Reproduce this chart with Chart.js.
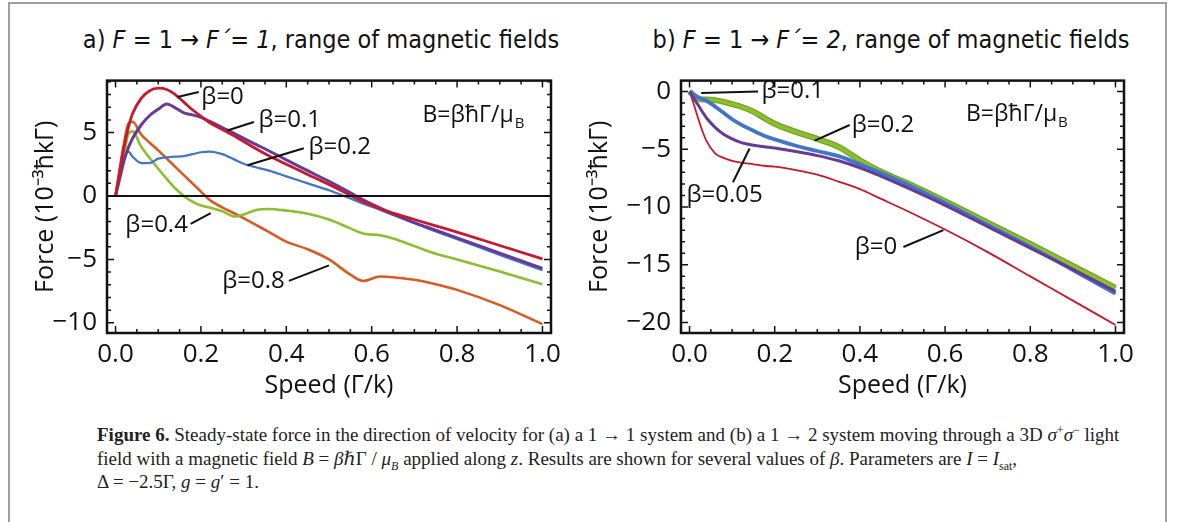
<!DOCTYPE html>
<html>
<head>
<meta charset="utf-8">
<script src="https://cdn.jsdelivr.net/npm/chart.js@4.4.1/dist/chart.umd.min.js"></script>
<style>
  html, body { margin: 0; padding: 0; background: #fff; }
  #page { position: relative; width: 1182px; height: 522px; overflow: hidden; background: #fff; }
  #frame { position: absolute; left: 8px; top: 2px; width: 1155px; height: 560px; border: 2px solid #a0a0a0; }
  .ptitle { position: absolute; top: 25px; width: 540px; text-align: center; white-space: nowrap;
            font: 25px 'Liberation Sans Narrow', 'DejaVu Sans Condensed', 'Liberation Sans', sans-serif; color: #111; }
  canvas { position: absolute; }
  #caption { position: absolute; left: 97px; top: 423px; white-space: nowrap; color: #222;
             font: 19px 'Liberation Serif', 'DejaVu Serif', serif; line-height: 23.5px; }
  #caption sup, #caption sub { font-size: 12px; line-height: 0; }
</style>
</head>
<body>
<div id="page">
  <div id="frame"></div>
  <div class="ptitle" style="left:51px">a) <i>F</i> = 1 → <i>F´</i>= <i>1</i>, range of magnetic fields</div>
  <div class="ptitle" style="left:621px">b) <i>F</i> = 1 → <i>F´</i>= <i>2</i>, range of magnetic fields</div>
  <canvas id="chartA" width="580" height="350" style="left:0px;top:55px"></canvas>
  <canvas id="chartB" width="580" height="350" style="left:575px;top:55px"></canvas>
  <div id="caption"><b>Figure 6.</b> Steady-state force in the direction of velocity for (a) a 1 → 1 system and (b) a 1 → 2 system moving through a 3D <i>σ</i><sup>+</sup><i>σ</i><sup>−</sup> light<br>field with a magnetic field <i>B</i> = <i>β</i>ℏΓ / <i>μ<sub>B</sub></i> applied along <i>z</i>. Results are shown for several values of <i>β</i>. Parameters are <i>I</i> = <i>I</i><sub>sat</sub>,<br>Δ = −2.5Γ, <i>g</i> = <i>g</i>′ = 1.</div>
</div>
<script>
// ---- data ----
// panel a: F = 1 -> F' = 1
const speedA = [0, 0.01, 0.02, 0.03, 0.04, 0.06, 0.08, 0.1, 0.12, 0.14, 0.16, 0.18, 0.2, 0.22, 0.25, 0.28, 0.3, 0.33, 0.36, 0.4, 0.45, 0.5, 0.55, 0.58, 0.62, 0.65, 0.7, 0.75, 0.8, 0.9, 1.0];
const forceA_b0   = [0, 2.0, 3.9, 5.4, 6.5, 7.7, 8.3, 8.5, 8.4, 8.0, 7.4, 6.8, 6.3, 5.8, 5.25, 4.7, 4.3, 3.7, 3.15, 2.5, 1.7, 0.9, 0.05, -0.45, -1.0, -1.35, -1.85, -2.35, -2.85, -3.9, -4.95];
const forceA_b01  = [0, 1.4, 2.8, 3.8, 4.55, 5.6, 6.35, 6.85, 7.25, 6.95, 6.55, 6.4, 6.2, 5.9, 5.4, 4.9, 4.55, 4.05, 3.55, 2.85, 2.0, 1.15, 0.25, -0.3, -0.95, -1.4, -2.1, -2.7, -3.3, -4.5, -5.7];
const forceA_b02  = [0, 1.6, 2.9, 3.5, 3.1, 2.6, 2.6, 2.95, 3.05, 3.1, 3.15, 3.3, 3.45, 3.5, 3.3, 2.85, 2.55, 2.25, 2.0, 1.55, 1.0, 0.45, -0.2, -0.6, -1.1, -1.5, -2.15, -2.8, -3.4, -4.65, -5.85];
const forceA_b04  = [0, 1.6, 3.2, 4.9, 5.1, 3.9, 3.0, 2.15, 1.35, 0.6, 0.0, -0.45, -0.75, -0.9, -1.2, -1.62, -1.45, -1.1, -1.02, -1.15, -1.4, -1.85, -2.55, -2.95, -3.1, -3.35, -3.95, -4.55, -5.0, -5.95, -6.95];
const forceA_b08  = [0, 2.2, 4.2, 5.7, 5.85, 4.85, 4.2, 3.6, 2.95, 2.3, 1.65, 1.0, 0.35, -0.3, -0.9, -1.4, -1.75, -2.3, -2.85, -3.6, -4.2, -5.0, -6.2, -6.7, -6.35, -6.4, -6.6, -6.95, -7.4, -8.6, -10.1];

// panel b: F = 1 -> F' = 2
const speedB = [0, 0.01, 0.02, 0.03, 0.04, 0.06, 0.08, 0.1, 0.12, 0.15, 0.18, 0.2, 0.25, 0.3, 0.35, 0.4, 0.45, 0.5, 0.6, 0.7, 0.8, 0.9, 1.0];
const forceB_b0   = [0, -1.1, -2.3, -3.4, -4.3, -5.35, -5.75, -6.0, -6.15, -6.3, -6.45, -6.5, -6.8, -7.2, -7.8, -8.45, -9.3, -10.15, -11.95, -13.9, -16.0, -18.1, -20.2];
const forceB_b005 = [0, -0.6, -1.15, -1.75, -2.3, -3.1, -3.7, -4.1, -4.4, -4.65, -4.8, -4.9, -5.2, -5.55, -6.0, -6.6, -7.35, -8.15, -9.85, -11.7, -13.55, -15.4, -17.3];
const forceB_b01  = [0, -0.3, -0.5, -0.65, -0.8, -1.3, -1.85, -2.4, -2.85, -3.4, -3.9, -4.15, -4.7, -5.15, -5.6, -6.3, -7.05, -7.85, -9.65, -11.55, -13.45, -15.45, -17.5];
const forceB_b02  = [0, -0.35, -0.6, -0.7, -0.7, -0.75, -0.9, -1.1, -1.3, -1.75, -2.4, -2.8, -3.5, -4.1, -4.8, -5.95, -6.95, -7.75, -9.5, -11.35, -13.2, -15.1, -17.0];

const speedTicks = [0, 0.2, 0.4, 0.6, 0.8, 1.0];
const forceTicksA = [-10, -5, 0, 5];
const forceTicksB = [-20, -15, -10, -5, 0];

const RED = 'rgb(200,24,44)', PURPLE = 'rgb(104,58,152)', BLUE = 'rgb(66,116,202)',
      GREEN = 'rgb(140,190,48)', GREEN_DARK = 'rgb(112,165,30)', ORANGE = 'rgb(216,90,36)';
const SANS = "'Open Sans', 'Liberation Sans', sans-serif";

function series(xs, ys, color, width) {
  return {
    data: xs.map((x, i) => ({ x: x, y: ys[i] })),
    borderColor: color,
    borderWidth: width,
    pointRadius: 0,
    fill: false,
    cubicInterpolationMode: 'monotone'
  };
}

// frame, inside ticks on all sides, zero line and callout labels
const framePlugin = {
  id: 'frame',
  afterDatasetsDraw(chart, args, opts) {
    const { ctx, chartArea: a, scales: { x, y } } = chart;
    ctx.save();
    ctx.strokeStyle = '#111';
    if (opts.zeroLine) {
      ctx.lineWidth = 2;
      ctx.beginPath();
      ctx.moveTo(a.left, y.getPixelForValue(0));
      ctx.lineTo(a.right, y.getPixelForValue(0));
      ctx.stroke();
    }
    ctx.lineWidth = 1.5;
    ctx.beginPath();
    for (let k = Math.ceil(x.min * 20); k <= Math.floor(x.max * 20); k++) {
      const px = x.getPixelForValue(k / 20);
      const len = k % 4 === 0 ? 7 : 4;
      ctx.moveTo(px, a.bottom); ctx.lineTo(px, a.bottom - len);
      ctx.moveTo(px, a.top); ctx.lineTo(px, a.top + len);
    }
    for (let k = Math.ceil(y.min); k <= Math.floor(y.max); k++) {
      const py = y.getPixelForValue(k);
      const len = k % 5 === 0 ? 7 : 4;
      ctx.moveTo(a.left, py); ctx.lineTo(a.left + len, py);
      ctx.moveTo(a.right, py); ctx.lineTo(a.right - len, py);
    }
    ctx.stroke();
    ctx.lineWidth = 2.5;
    ctx.strokeRect(a.left, a.top, a.right - a.left, a.bottom - a.top);

    // callouts
    ctx.fillStyle = '#111';
    ctx.textBaseline = 'middle';
    ctx.textAlign = 'left';
    ctx.font = '24px ' + SANS;
    ctx.lineWidth = 2;
    (opts.labels || []).forEach(l => {
      ctx.beginPath();
      ctx.moveTo(x.getPixelForValue(l.from[0]), y.getPixelForValue(l.from[1]));
      ctx.lineTo(x.getPixelForValue(l.to[0]), y.getPixelForValue(l.to[1]));
      ctx.stroke();
      ctx.fillText(l.text, x.getPixelForValue(l.at[0]), y.getPixelForValue(l.at[1]));
    });
    if (opts.field) {
      const fx = x.getPixelForValue(opts.field[0]), fy = y.getPixelForValue(opts.field[1]);
      ctx.font = '23px ' + SANS;
      const main = 'B=βħΓ/μ';
      ctx.fillText(main, fx, fy);
      const w = ctx.measureText(main).width;
      ctx.font = '15px ' + SANS;
      ctx.fillText('B', fx + w + 1, fy + 8);
    }
    ctx.restore();
  }
};

function makeChart(id, datasets, yMin, yMax, yTicks, yTitlePad, yAxisWidth, padRight, plugOpts) {
  return new Chart(document.getElementById(id), {
    type: 'line',
    data: { datasets: datasets },
    plugins: [framePlugin],
    options: {
      responsive: false,
      animation: false,
      layout: { padding: { top: 5, right: padRight, left: 0, bottom: 0 } },
      plugins: { legend: { display: false }, tooltip: { enabled: false }, frame: plugOpts },
      scales: {
        x: {
          type: 'linear', min: -0.02, max: 1.02,
          grid: { display: false, drawTicks: false }, border: { display: false },
          afterBuildTicks: s => { s.ticks = speedTicks.map(v => ({ value: v })); },
          afterFit: s => { s.height = 72; },
          ticks: { autoSkip: false, maxRotation: 0, padding: 6, color: '#111',
                   font: { family: SANS, size: 26 }, callback: v => v.toFixed(1) },
          title: { display: true, text: 'Speed (Γ/k)', color: '#111',
                   font: { family: SANS, size: 25 }, padding: { top: 0, bottom: 4 } }
        },
        y: {
          min: yMin, max: yMax,
          grid: { display: false, drawTicks: false }, border: { display: false },
          afterBuildTicks: s => { s.ticks = yTicks.map(v => ({ value: v })); },
          afterFit: s => { s.width = yAxisWidth; },
          ticks: { autoSkip: false, padding: 10, color: '#111',
                   font: { family: SANS, size: 26 },
                   callback: v => v < 0 ? '\u2212' + Math.abs(v) : String(v) },
          title: { display: true, text: 'Force (10\u207B\u00B3\u0127kΓ)', color: '#111',
                   font: { family: SANS, size: 25 }, padding: { top: yTitlePad, bottom: 0 } }
        }
      }
    }
  });
}

makeChart('chartA', [
  series(speedA, forceA_b0, RED, 2.8),
  series(speedA, forceA_b01, PURPLE, 3),
  series(speedA, forceA_b02, BLUE, 2.2),
  series(speedA, forceA_b04, GREEN, 2.6),
  series(speedA, forceA_b08, ORANGE, 2.6)
], -10.8, 9.1, forceTicksA, 31, 107, 29, {
  zeroLine: true,
  field: [0.719, 6.35],
  labels: [
    { text: 'β=0',   at: [0.201, 7.8],   from: [0.145, 7.8],   to: [0.195, 8.2] },
    { text: 'β=0.1', at: [0.335, 6.0],   from: [0.262, 5.16],  to: [0.324, 5.84] },
    { text: 'β=0.2', at: [0.452, 3.87],  from: [0.309, 2.43],  to: [0.441, 3.77] },
    { text: 'β=0.4', at: [0.023, -2.31], from: [0.176, -2.19], to: [0.223, -1.34] },
    { text: 'β=0.8', at: [0.25, -6.75],  from: [0.406, -6.69], to: [0.5, -5.47] }
  ]
});

makeChart('chartB', [
  series(speedB, forceB_b005, PURPLE, 3),
  series(speedB, forceB_b01, BLUE, 3.8),
  series(speedB, forceB_b02, GREEN, 3.5),
  series(speedB, forceB_b02, GREEN_DARK, 6),
  series(speedB, forceB_b0, RED, 1.8)
], -20.9, 0.94, forceTicksB, 10, 106, 31, {
  zeroLine: false,
  field: [0.649, -2.0],
  labels: [
    { text: 'β=0.1',  at: [0.169, 0.05],  from: [0.0275, -0.13], to: [0.161, 0] },
    { text: 'β=0.2',  at: [0.381, -2.9],  from: [0.294, -4.26],  to: [0.376, -2.9] },
    { text: 'β=0.05', at: [-0.007, -9.0], from: [0.102, -7.86],  to: [0.141, -4.93] },
    { text: 'β=0',    at: [0.388, -13.5], from: [0.502, -13.46], to: [0.596, -12.0] }
  ]
});
</script>
</body>
</html>
